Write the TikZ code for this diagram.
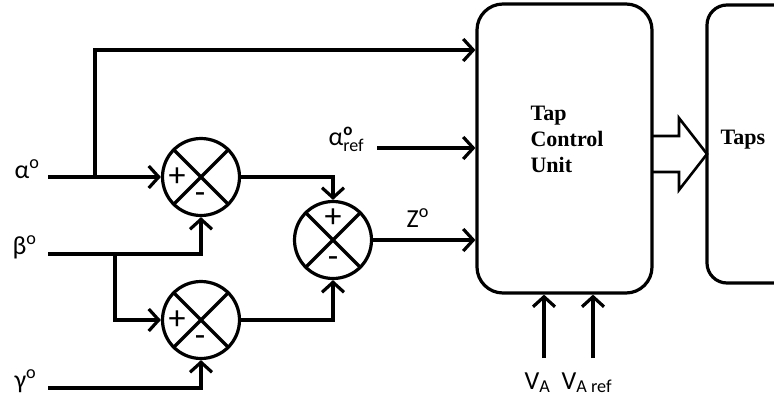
\documentclass[tikz,border=0pt]{standalone}
\usepackage{fontspec}
\setmainfont{Carlito}
\newfontfamily\tnr{Liberation Serif}
\usetikzlibrary{arrows.meta}
\begin{document}
\begin{tikzpicture}[x=1pt,y=-1pt,line width=3.2pt,
  conn/.style={-{Straight Barb[length=10pt,width=22pt]}},
  sumnode/.style={circle,draw,minimum size=77pt,inner sep=0pt},
  lbl/.style={font=\fontsize{26}{28}\selectfont,inner sep=0pt,anchor=base west},
  sgn/.style={font=\fontsize{34}{36}\selectfont,inner sep=0pt},
  block/.style={draw,rounded corners=26pt,inner sep=0pt},
  btxt/.style={font=\tnr\bfseries\fontsize{22}{26}\selectfont,inner sep=0pt,align=left}]
\useasboundingbox (0,0) rectangle (774,402);
\clip (0,0) rectangle (774,402);

% blocks
\node[block,minimum width=175pt,minimum height=289pt] (tcu) at (564.5,148.5) {};
\node[btxt,anchor=west] (tcutxt) at (529,139) {Tap\\Control\\Unit};
\node[block,rounded corners=20pt,minimum width=130pt,minimum height=278pt] (taps) at (772,144) {};
\node[btxt,anchor=west] (tapstxt) at (719,140) {Taps};

% fat arrow
\draw[line width=2.6pt,line join=miter] (652,136) -- (679,136) -- (679,118) -- (707,154) -- (679,190) -- (679,172) -- (652,172);

% summing junctions
\node[sumnode] (c1) at (201,177) {};
\node[sumnode] (c2) at (201,320) {};
\node[sumnode] (c3) at (333,240) {};
\foreach \c in {c1,c2,c3}{
  \draw (\c.45) -- (\c.225) (\c.135) -- (\c.315);
}
\node[sgn] (p1) at (177,177) {+};
\node[sgn] (m1) at (200,198) {-};
\node[sgn] (p2) at (177,320) {+};
\node[sgn] (m2) at (200,341) {-};
\node[sgn] (p3) at (333,218) {+};
\node[sgn] (m3) at (333,262) {-};

% labels
\node[lbl] (la) at (13,178) {α\textsuperscript{o}};
\node[lbl] (lb) at (11,254) {β\textsuperscript{o}};
\node[lbl] (lg) at (13,388) {γ\textsuperscript{o}};
\node[lbl] (lz) at (405,227) {Z\textsuperscript{o}};
\node[lbl] (lref) at (327,145) {$\mbox{α}^{\mbox{\fontsize{17}{18}\selectfont\bfseries o}}_{\mbox{\fontsize{18}{18}\selectfont ref}}$};
\node[lbl] (lva) at (523,389) {V\textsubscript{A}};
\node[lbl] (lvar) at (560,389) {V\textsubscript{A ref}};

% free ends
\coordinate (ain) at (48,177);
\coordinate (abr) at (95,177);
\coordinate (atop) at (95,50);
\coordinate (bin) at (48,254);
\coordinate (bbr) at (115,254);
\coordinate (gin) at (48,388);
\coordinate (arefin) at (377,148);
\coordinate (va) at (544,358);
\coordinate (var) at (593,358);

% connectors
\draw[conn] (ain) -- (c1.west);
\draw[conn] (abr) -- (atop) -- (atop -| tcu.west);
\draw[conn] (bin) -| (c1.south);
\draw[conn] (bbr) |- (c2.west);
\draw[conn] (gin) -| (c2.south);
\draw[conn] (c1.east) -| (c3.north);
\draw[conn] (c2.east) -| (c3.south);
\draw[conn] (c3.east) -- (c3.east -| tcu.west);
\draw[conn] (arefin) -- (arefin -| tcu.west);
\draw[conn] (va) -- (va |- tcu.south);
\draw[conn] (var) -- (var |- tcu.south);
\end{tikzpicture}
\end{document}
